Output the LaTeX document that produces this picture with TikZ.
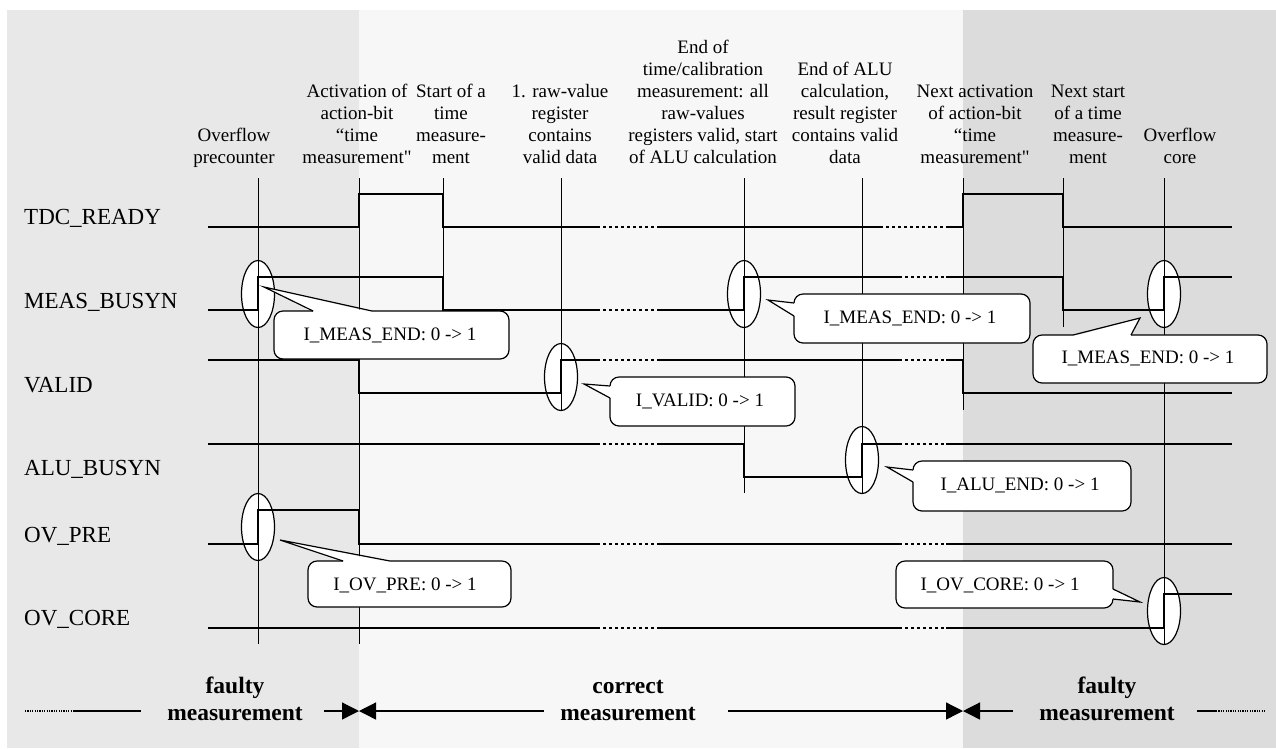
\documentclass[tikz,border=0pt]{standalone}
\usepackage{fontspec}
\setmainfont{Liberation Serif}[Ligatures=TeXOff]
\usetikzlibrary{arrows.meta,shapes.geometric}
\definecolor{bgL}{HTML}{E8E8E8}
\definecolor{bgM}{HTML}{F7F7F7}
\definecolor{bgR}{HTML}{DCDCDC}
\newcommand{\hdr}[1]{\begin{tabular}[b]{@{}c@{}}#1\end{tabular}}
\tikzset{
  sig/.style={line width=2.6pt, line join=miter},
  sigdot/.style={line width=2.6pt, dash pattern=on 3pt off 3pt},
  vline/.style={line width=1pt},
  ell/.style={ellipse, draw, fill=white, line width=1.2pt, minimum width=33pt, minimum height=67pt, inner sep=0pt},
  cobord/.style={line width=1.2pt},
  cotext/.style={font=\fontsize{19}{22}\selectfont, inner sep=0pt},
  hdrtext/.style={font=\fontsize{19}{22}\selectfont, inner sep=0pt, anchor=base},
  lbl/.style={font=\fontsize{23}{26}\selectfont, inner sep=0pt, anchor=base west},
  btext/.style={font=\fontsize{23.5}{27}\selectfont\bfseries, inner sep=0pt, anchor=base},
  barrow/.style={line width=1.3pt, -{Triangle[length=17pt,width=17pt]}},
  bline/.style={line width=1.3pt},
  bdot/.style={line width=1.2pt, dash pattern=on 1.2pt off 1.2pt},
}
% callout with pointer on the top edge
\newcommand{\coTop}[7]{%
  \fill[white,rounded corners=9pt] (#1,#2) rectangle (#3,#4);
  \fill[white] ({#5},{#2+1.5}) -- (#7) -- ({#6},{#2+1.5}) -- cycle;
  \draw[cobord,rounded corners=9pt] (#6,#2) -- (#3,#2) -- (#3,#4) -- (#1,#4) -- (#1,#2) -- (#5,#2);
  \draw[cobord] (#5,#2) -- (#7) -- (#6,#2);
}
% callout with pointer on the left edge
\newcommand{\coLeft}[7]{%
  \fill[white,rounded corners=9pt] (#1,#2) rectangle (#3,#4);
  \fill[white] ({#1+1.5},{#5}) -- (#7) -- ({#1+1.5},{#6}) -- cycle;
  \draw[cobord,rounded corners=9pt] (#1,#6) -- (#1,#4) -- (#3,#4) -- (#3,#2) -- (#1,#2) -- (#1,#5);
  \draw[cobord] (#1,#5) -- (#7) -- (#1,#6);
}
% callout with pointer on the right edge
\newcommand{\coRight}[7]{%
  \fill[white,rounded corners=9pt] (#1,#2) rectangle (#3,#4);
  \fill[white] ({#3-1.5},{#5}) -- (#7) -- ({#3-1.5},{#6}) -- cycle;
  \draw[cobord,rounded corners=9pt] (#3,#5) -- (#3,#2) -- (#1,#2) -- (#1,#4) -- (#3,#4) -- (#3,#6);
  \draw[cobord] (#3,#5) -- (#7) -- (#3,#6);
}
\begin{document}
\begin{tikzpicture}[x=1pt,y=-1pt]
\useasboundingbox (0,0) rectangle (1276,748);
\fill[white] (0,0) rectangle (1276,748);
% background zones
\fill[bgL] (7,10) rectangle (359,748);
\fill[bgM] (359,10) rectangle (963,748);
\fill[bgR] (963,10) rectangle (1276,748);

% header texts
\node[hdrtext] (hA) at (234,163) {\hdr{Overflow\\precounter}};
\node[hdrtext] (hB) at (357,163) {\hdr{Activation of\\action-bit\\“time\\measurement"}};
\node[hdrtext] (hC) at (451,163) {\hdr{Start of a\\time\\measure-\\ment}};
\node[hdrtext] (hD) at (560,163) {\hdr{1. raw-value\\register\\contains\\valid data}};
\node[hdrtext] (hE) at (703,163) {\hdr{End of\\time/calibration\\measurement: all\\raw-values\\registers valid, start\\of ALU calculation}};
\node[hdrtext] (hF) at (845,163) {\hdr{End of ALU\\calculation,\\result register\\contains valid\\data}};
\node[hdrtext] (hG) at (975,163) {\hdr{Next activation\\of action-bit\\“time\\measurement"}};
\node[hdrtext] (hH) at (1088,163) {\hdr{Next start\\of a time\\measure-\\ment}};
\node[hdrtext] (hI) at (1180,163) {\hdr{Overflow\\core}};

% signal labels
\node[lbl] (lTDC) at (24,224) {TDC\_READY};
\node[lbl] (lMEAS) at (24,308) {MEAS\_BUSYN};
\node[lbl] (lVAL) at (24,392) {VALID};
\node[lbl] (lALU) at (24,475) {ALU\_BUSYN};
\node[lbl] (lOVP) at (24,542) {OV\_PRE};
\node[lbl] (lOVC) at (24,625) {OV\_CORE};

% ellipses marking the interrupt edges
\node[ell] (e1) at (258,294) {};
\node[ell] (e2) at (561,377) {};
\node[ell] (e3) at (744,294) {};
\node[ell] (e4) at (1164,294) {};
\node[ell] (e5) at (862,460) {};
\node[ell] (e6) at (258,527) {};
\node[ell] (e7) at (1164,611) {};

% event lines
\draw[vline] (258,178) -- (258,644);
\draw[vline] (359,178) -- (359,644);
\draw[vline] (443,178) -- (443,310);
\draw[vline] (561,178) -- (561,410);
\draw[vline] (744,178) -- (744,493);
\draw[vline] (862,178) -- (862,493);
\draw[vline] (963,178) -- (963,410);
\draw[vline] (1063,178) -- (1063,327);
\draw[vline] (1164,178) -- (1164,644);

% signals
% TDC_READY
\draw[sig] (208,227) -- (359,227) -- (359,194) -- (443,194) -- (443,227) -- (597,227)
           (660,227) -- (880,227)
           (946,227) -- (963,227) -- (963,194) -- (1063,194) -- (1063,227) -- (1232,227);
\draw[sigdot] (597,227) -- (660,227) (880,227) -- (946,227);
% MEAS_BUSYN
\draw[sig] (208,310) -- (258,310) -- (258,277) -- (443,277) -- (443,310) -- (597,310)
           (660,310) -- (744,310) -- (744,277) -- (899,277)
           (946,277) -- (1063,277) -- (1063,310) -- (1164,310) -- (1164,277) -- (1232,277);
\draw[sigdot] (597,310) -- (660,310) (899,277) -- (946,277);
% VALID
\draw[sig] (208,360) -- (359,360) -- (359,393) -- (561,393) -- (561,360) -- (597,360)
           (660,360) -- (899,360)
           (946,360) -- (963,360) -- (963,393) -- (1232,393);
\draw[sigdot] (597,360) -- (660,360) (899,360) -- (946,360);
% ALU_BUSYN
\draw[sig] (208,444) -- (597,444)
           (660,444) -- (744,444) -- (744,477) -- (862,477) -- (862,444) -- (899,444)
           (946,444) -- (1232,444);
\draw[sigdot] (597,444) -- (660,444) (899,444) -- (946,444);
% OV_PRE
\draw[sig] (208,544) -- (258,544) -- (258,510) -- (359,510) -- (359,544) -- (597,544)
           (660,544) -- (899,544)
           (946,544) -- (1232,544);
\draw[sigdot] (597,544) -- (660,544) (899,544) -- (946,544);
% OV_CORE
\draw[sig] (208,628) -- (597,628)
           (660,628) -- (899,628)
           (946,628) -- (1164,628) -- (1164,594) -- (1232,594);
\draw[sigdot] (597,628) -- (660,628) (899,628) -- (946,628);

% callouts
\coordinate (tMeasA) at (264,287);
\coordinate (tValid) at (584,384);
\coordinate (tMeasB) at (768,300);
\coordinate (tMeasC) at (1140,318);
\coordinate (tAlu) at (887,467);
\coordinate (tOvPre) at (280,540);
\coordinate (tOvCore) at (1140,602);
\coTop{274}{311}{509}{359}{313}{372}{tMeasA}
\node[cotext] (cMeasA) at (390,335) {I\_MEAS\_END: 0 -> 1};
\coLeft{610}{377}{795}{426}{386}{398}{tValid}
\node[cotext] (cValid) at (700,401) {I\_VALID: 0 -> 1};
\coLeft{794}{294}{1030}{343}{303}{316}{tMeasB}
\node[cotext] (cMeasB) at (910,318) {I\_MEAS\_END: 0 -> 1};
\coTop{1033}{335}{1267}{383}{1073}{1131}{tMeasC}
\node[cotext] (cMeasC) at (1148,358) {I\_MEAS\_END: 0 -> 1};
\coLeft{913}{461}{1131}{511}{470}{482}{tAlu}
\node[cotext] (cAlu) at (1020,485) {I\_ALU\_END: 0 -> 1};
\coTop{308}{561}{511}{607}{343}{390}{tOvPre}
\node[cotext] (cOvPre) at (405,585) {I\_OV\_PRE: 0 -> 1};
\coRight{896}{561}{1113}{608}{589}{599}{tOvCore}
\node[cotext] (cOvCore) at (1000,585) {I\_OV\_CORE: 0 -> 1};

% bottom phase labels
\node[btext] (fL) at (235,720) {\hdr{faulty\\measurement}};
\node[btext] (cM) at (628,720) {\hdr{correct\\measurement}};
\node[btext] (fR) at (1107,720) {\hdr{faulty\\measurement}};

\coordinate (bL0) at (25,711);
\coordinate (bL1) at (73,711);
\coordinate (bL2) at (141,711);
\coordinate (bL3) at (324,711);
\coordinate (bA) at (359,711);
\coordinate (bM1) at (544,711);
\coordinate (bM2) at (728,711);
\coordinate (bB) at (963,711);
\coordinate (bR1) at (1013,711);
\coordinate (bR2) at (1197,711);
\coordinate (bR3) at (1216,711);
\coordinate (bR4) at (1265,711);
\draw[bdot] (bL0) -- (bL1);
\draw[bline] (bL1) -- (bL2);
\draw[barrow] (bL3) -- (bA);
\draw[barrow] (bM1) -- (bA);
\draw[barrow] (bM2) -- (bB);
\draw[barrow] (bR1) -- (bB);
\draw[bline] (bR2) -- (bR3);
\draw[bdot] (bR3) -- (bR4);
\end{tikzpicture}
\end{document}
